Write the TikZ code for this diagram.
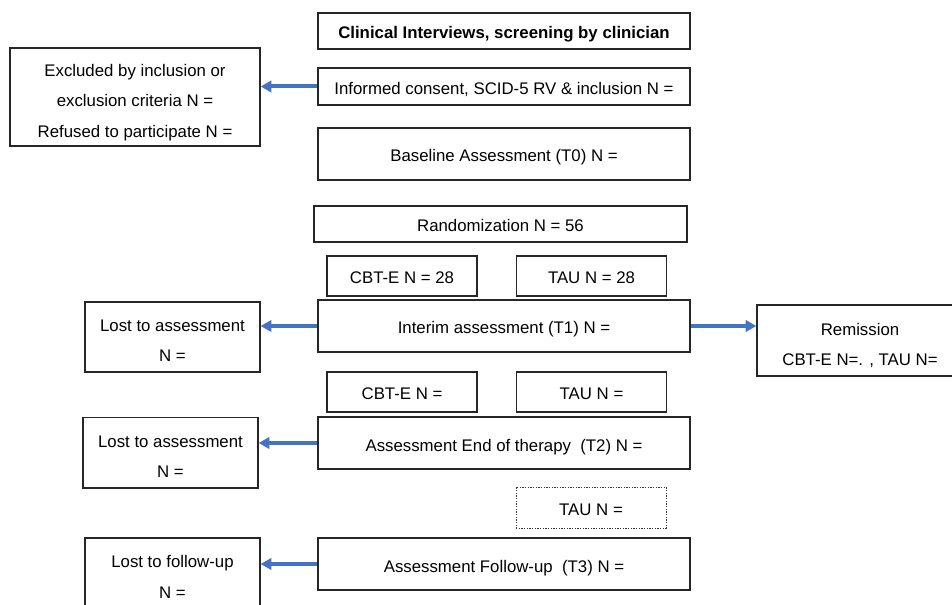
\documentclass[tikz,border=0pt]{standalone}
\usepackage{fontspec}
\setmainfont{Liberation Sans}
\usetikzlibrary{arrows.meta}
\definecolor{arrblue}{RGB}{68,114,196}
\begin{document}
\begin{tikzpicture}[x=0.75pt,y=-0.75pt,
  box/.style = {draw=black!85, line width=1pt, align=center, inner sep=0pt, font=\fontsize{12.6}{22.7}\selectfont, text height=12pt, text depth=0pt},
  two/.style = {box, text height=37.5pt},
  three/.style = {box, text height=60.4pt},
  wide/.style = {box, minimum width=279pt, minimum height=39pt},
  small/.style = {box, minimum width=112.5pt, minimum height=30pt},
  side/.style = {two, minimum width=131.25pt, minimum height=53pt},
  dotbox/.style = {small, draw=black!80, densely dotted, line width=0.6pt},
  arr/.style = {draw=arrblue, line width=3pt, -{Triangle[length=8pt,width=8.5pt]}}]
\useasboundingbox (0,0) rectangle (952,605);
\clip (0,0) rectangle (952,605);
\node[wide, minimum height=27pt, font=\fontsize{12.6}{15}\selectfont\bfseries] (clin) at (504,31) {Clinical Interviews, screening by clinician};
\node[wide, minimum height=27.75pt] (cons) at (504,86.5) {Informed consent, SCID-5 RV \& inclusion N =};
\node[three, minimum width=187.5pt, minimum height=73.5pt] (excl) at (135,97) {Excluded by inclusion or\\exclusion criteria N =\\Refused to participate N =};
\node[wide] (base) at (504,154) {Baseline Assessment (T0) N =};
\node[wide, minimum width=279.75pt, minimum height=27pt] (rand) at (500.5,224) {Randomization N = 56};
\node[small] (cbta) at (402,276) {CBT-E N = 28};
\node[small] (taua) at (591.5,276) {TAU N = 28};
\node[wide] (inter) at (504,326) {Interim assessment (T1) N =};
\node[side, minimum height=52.5pt] (lost1) at (172.5,337) {Lost to assessment\\N =};
\node[two, minimum width=154.5pt, minimum height=53.25pt] (remi) at (860,340.5) {Remission\\CBT-E N=. , TAU N=};
\node[small] (cbtb) at (402,392) {CBT-E N =};
\node[small] (taub) at (591.5,392) {TAU N =};
\node[wide] (endt) at (504,443) {Assessment End of therapy\ \ (T2) N =};
\node[side] (lost2) at (170.5,452.5) {Lost to assessment\\N =};
\node[dotbox, minimum height=30.75pt] (taud) at (591,507.5) {TAU N =};
\node[wide] (foll) at (504,564) {Assessment Follow-up\ \ (T3) N =};
\node[side, minimum height=52.5pt] (lost3) at (172.5,573) {Lost to follow-up\\N =};
\draw[arr] (cons.west) -- (cons.west -| excl.east);
\draw[arr] (inter.west) -- (inter.west -| lost1.east);
\draw[arr] (inter.east) -- (inter.east -| remi.west);
\draw[arr] (endt.west) -- (endt.west -| lost2.east);
\draw[arr] (foll.west) -- (foll.west -| lost3.east);
\end{tikzpicture}
\end{document}
